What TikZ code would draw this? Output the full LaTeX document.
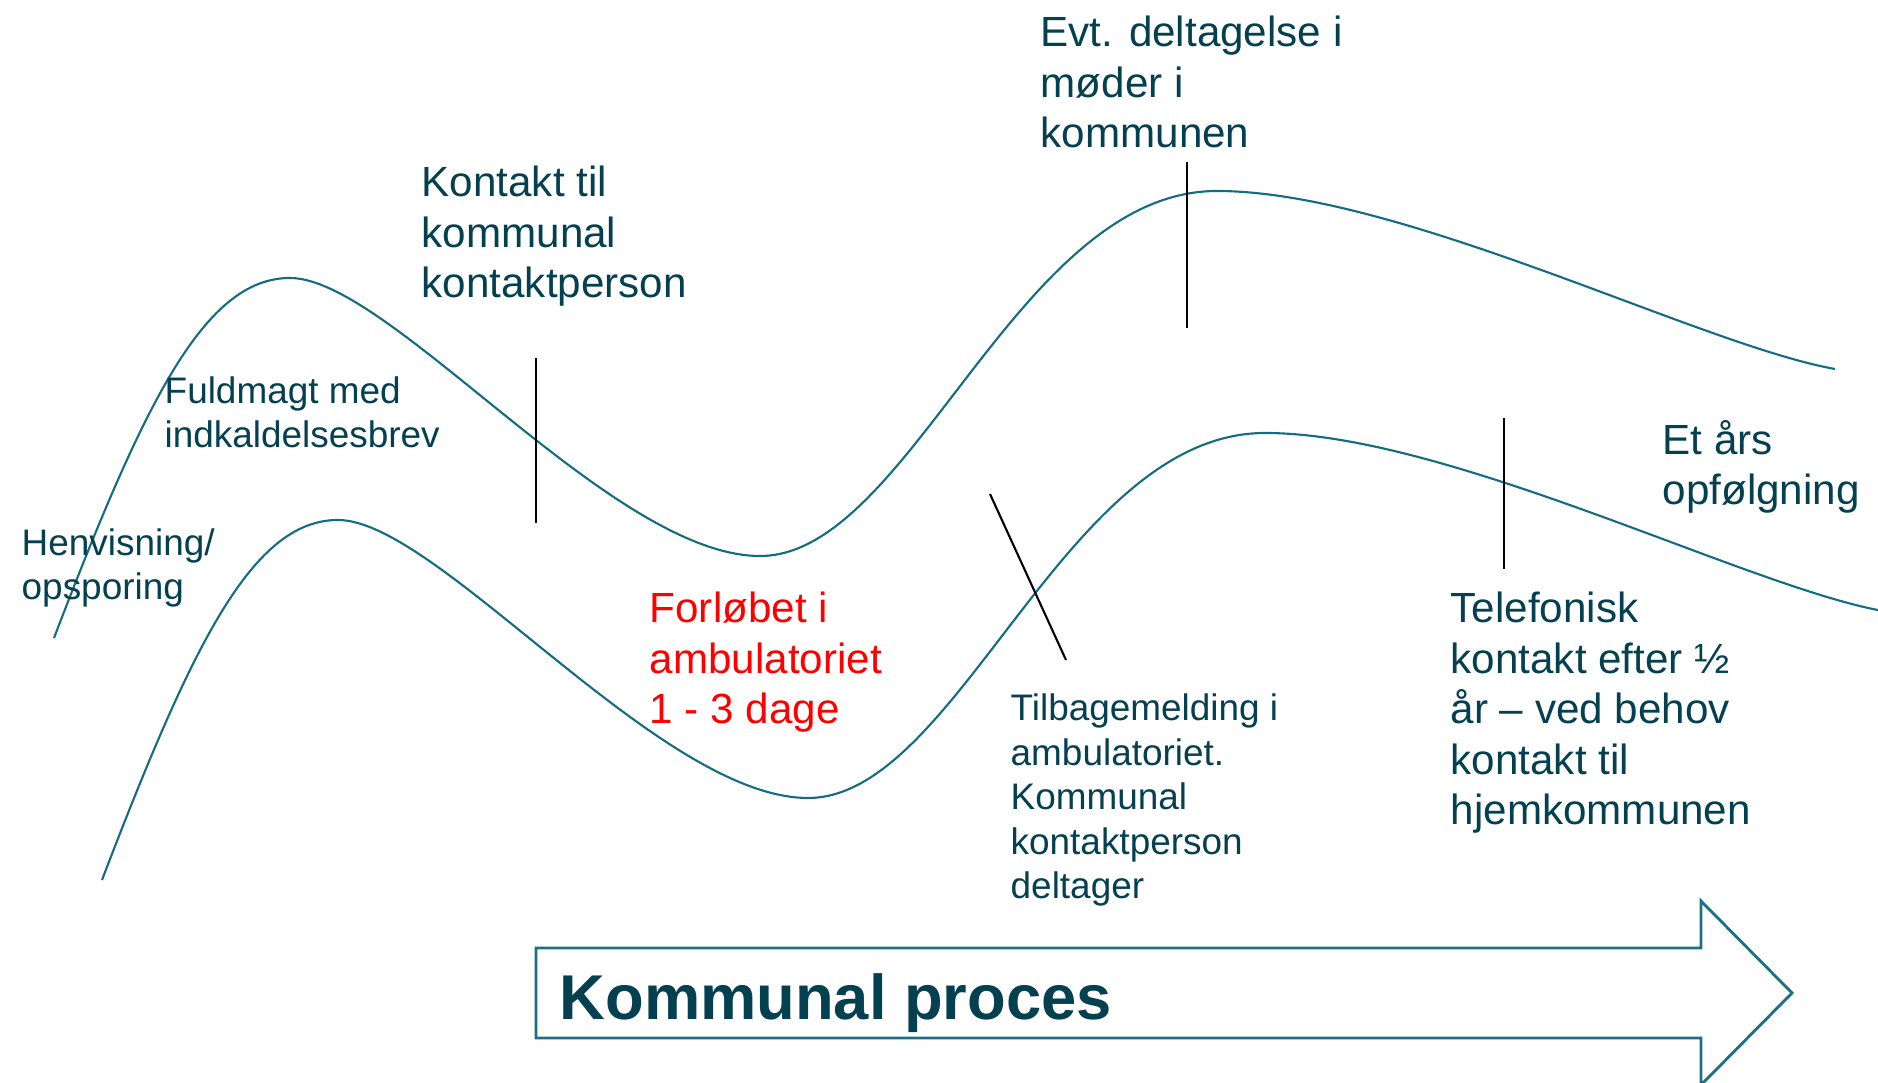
\documentclass[tikz,border=0pt]{standalone}
\usepackage{fontspec}
\setmainfont{Liberation Sans}
\definecolor{waveteal}{RGB}{20,108,128}
\definecolor{labelteal}{RGB}{4,64,80}
\definecolor{arrowteal}{RGB}{28,112,132}
\tikzset{
	wave/.style={draw=waveteal, line width=0.6pt},
	tickline/.style={draw=black, line width=0.6pt},
	biglabel/.style={anchor=base west, inner sep=0pt, align=left, text=labelteal, font=\fontsize{12}{14.4}\selectfont},
	smalllabel/.style={anchor=base west, inner sep=0pt, align=left, text=labelteal, font=\fontsize{10.5}{12.7}\selectfont},
	titlelabel/.style={anchor=base west, inner sep=0pt, text=labelteal, font=\fontsize{18}{21.6}\selectfont\bfseries},
	arrowbox/.style={draw=arrowteal, line width=0.8pt, line join=miter}
}
\def\wavecurve(#1,#2){\draw[wave, shift={(#1,#2)}] (54,638) .. controls (145,400) and (205,278) .. (290,278) .. controls (390,278) and (612,556) .. (760,556) .. controls (910,556) and (1017,191) .. (1217,191) .. controls (1400,191) and (1700,345) .. (1835,369);}

\begin{document}
\begin{tikzpicture}[x=0.01cm, y=-0.01cm]
			%%%%% START %%%%%
			\useasboundingbox (0,0) rectangle (1878,1083);
			
			\wavecurve(0,0)
			\wavecurve(48,242)
			
			\draw[tickline] (536,358) -- (536,523);
			\draw[tickline] (1187,162) -- (1187,328);
			\draw[tickline] (1504,418) -- (1504,569);
			\draw[tickline] (990,494) -- (1066,660);
			
			% labels sit on the baseline of their last line
			\node[smalllabel] (henvisning) at (21,600) {Henvisning/\\opsporing};
			\node[smalllabel] (fuldmagt) at (164,448) {Fuldmagt med\\indkaldelsesbrev};
			\node[biglabel] (kontakt) at (421,298) {Kontakt til\\kommunal\\kontaktperson};
			\node[biglabel] (deltagelse) at (1040,148) {Evt. deltagelse i\\møder i\\kommunen};
			\node[biglabel, text=red] (forloeb) at (649,724) {Forløbet i\\ambulatoriet\\1 - 3 dage};
			\node[smalllabel] (tilbagemelding) at (1010,899) {Tilbagemelding i\\ambulatoriet.\\Kommunal\\kontaktperson\\deltager};
			\node[biglabel] (etaar) at (1662,505) {Et års\\opfølgning};
			\node[biglabel] (telefonisk) at (1450,825) {Telefonisk\\kontakt efter ½\\år – ved behov\\kontakt til\\hjemkommunen};
			
			\draw[arrowbox] (536,948) -- (1701,948) -- (1701,901) -- (1792,993) -- (1701,1085) -- (1701,1038) -- (536,1038) -- cycle;
			\node[titlelabel] (proces) at (559,1020) {Kommunal proces};
			
			%%%%% END %%%%%
\end{tikzpicture}
\end{document}
